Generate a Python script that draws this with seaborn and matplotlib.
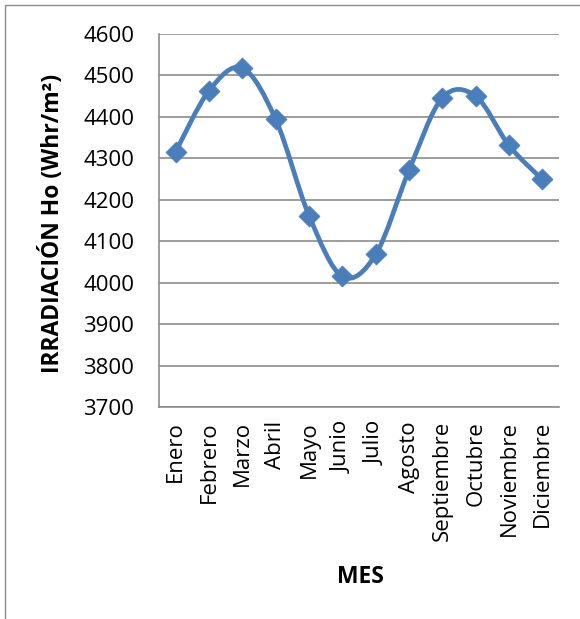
import numpy as np
import pandas as pd
import matplotlib
matplotlib.use("Agg")
import matplotlib.pyplot as plt
from matplotlib.path import Path
from matplotlib.patches import PathPatch, Rectangle
import seaborn as sns

meses = ["Enero", "Febrero", "Marzo", "Abril", "Mayo", "Junio", "Julio",
         "Agosto", "Septiembre", "Octubre", "Noviembre", "Diciembre"]
irradiacion = [4316, 4463, 4518, 4394, 4162, 4015, 4068, 4271, 4446, 4450, 4331, 4249]
y_ticks = [3700, 3800, 3900, 4000, 4100, 4200, 4300, 4400, 4500, 4600]

sns.set_theme(style="white")
plt.rcParams['font.family'] = ['Open Sans', 'DejaVu Sans']
plt.rcParams['text.color'] = 'black'
plt.rcParams['axes.labelcolor'] = 'black'
plt.rcParams['xtick.color'] = 'black'
plt.rcParams['ytick.color'] = 'black'

color = "#4A7EBB"
df = pd.DataFrame({"mes": meses, "x": np.arange(len(meses)), "valor": irradiacion})

fig = plt.figure(figsize=(5.8, 6.19), dpi=100)
ax = fig.add_axes([159/580, 1-407/619, 400/580, 373/619])

# smoothed line (Excel-like Bezier through data points)
xs = df["x"].to_numpy(float)
ys = df["valor"].to_numpy(float)
P = np.column_stack([xs, ys])
Pext = np.vstack([P[0], P, P[-1]])
verts = [tuple(P[0])]
codes = [Path.MOVETO]
for i in range(len(P) - 1):
    p0, p1, p2, p3 = Pext[i], Pext[i+1], Pext[i+2], Pext[i+3]
    c1 = p1 + (p2 - p0) / 6.0
    c2 = p2 - (p3 - p1) / 6.0
    verts += [tuple(c1), tuple(c2), tuple(p2)]
    codes += [Path.CURVE4] * 3
ax.add_patch(PathPatch(Path(verts, codes), facecolor="none", edgecolor=color,
                       lw=3.4, capstyle="round", joinstyle="round", zorder=3))

sns.scatterplot(data=df, x="x", y="valor", marker="D", s=115, color=color,
                edgecolor=color, linewidth=0.5, ax=ax, zorder=4, legend=False)

ax.set_xlim(-0.5, len(meses) - 0.5)
ax.set_ylim(3700, 4600)
ax.set_yticks(y_ticks)
ax.set_yticklabels([str(v) for v in y_ticks], fontsize=16, color="black")
ax.set_xticks(range(len(meses)))
ax.set_xticklabels(meses, rotation=90, fontsize=16, color="black")
ax.tick_params(axis="y", length=0, pad=18)
ax.tick_params(axis="x", length=0, pad=10)
ax.yaxis.grid(True, color="#8C8C8C", lw=1.2)
ax.xaxis.grid(False)
for s in ["top", "right"]:
    ax.spines[s].set_visible(False)
for s in ["left", "bottom"]:
    ax.spines[s].set_color("#8C8C8C")
    ax.spines[s].set_linewidth(1.2)

ax.set_xlabel("MES", fontsize=16.5, fontweight="bold", color="black")
ax.set_ylabel("IRRADIACIÓN Ho (Whr/m²)", fontsize=16.5, fontweight="bold", color="black")
ax.xaxis.set_label_coords((360 - 159) / 400, (407 - 577) / 373)
ax.yaxis.set_label_coords((53 - 159) / 400, (407 - 223.5) / 373)
ax.xaxis.label.set_va("center")
ax.yaxis.label.set_va("center")

fig.patches.append(Rectangle((5/580, -0.01), 1.0, 1 - 5/619 + 0.01, transform=fig.transFigure,
                             fill=False, edgecolor="#8C8C8C", lw=1.0))

fig.savefig("out.png", dpi=100)
